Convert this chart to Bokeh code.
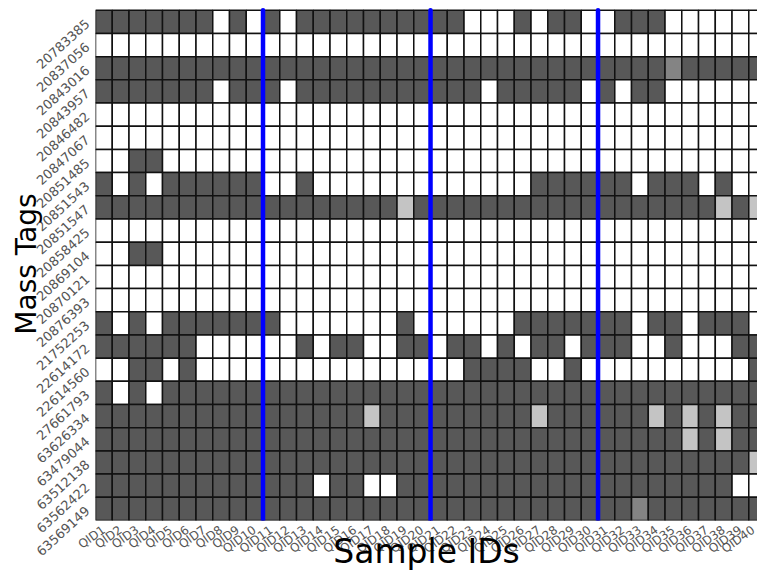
import math
from bokeh.plotting import figure
from bokeh.models import ColumnDataSource, Range1d, FixedTicker
from bokeh.embed import file_html
from bokeh.resources import INLINE

# Mass tags, listed top row first
mass_tags = [
    "20783385", "20837056", "20843016", "20843957", "20846482", "20847067",
    "20851485", "20851543", "20851547", "20858425", "20869104", "20870121",
    "20876393", "21752253", "22614172", "22614560", "27661793", "63626334",
    "63479044", "63512138", "63562422", "63569149",
]

# Sample IDs, left to right
sample_ids = [f"QID{i}" for i in range(1, 41)]

# Call per tag and sample: W = absent, D = present, L = weak, M = partial
calls = [
    "DDDDDDDWDW" "DWDDDDDDDD" "DDWWWDWDDW" "WDDDWWWWWW",
    "WWWWWWWWWW" "WWWWWWWWWW" "WWWWWWWWWW" "WWWWWWWWWW",
    "DDDDDDDDDD" "DDDDDDDDDD" "DDDDDDDDDD" "DDDDMDDDDD",
    "DDDDDDDWDD" "DWDDDDDDDD" "DDDWDDDDDW" "DWDDWWWWWW",
    "WWWWWWWWWW" "WWWWWWWWWW" "WWWWWWWWWW" "WWWWWWWWWW",
    "WWWWWWWWWW" "WWWWWWWWWW" "WWWWWWWWWW" "WWWWWWWWWW",
    "WWDDWWWWWW" "WWWWWWWWWW" "WWWWWWWWWW" "WWWWWWWWWW",
    "DWDWDDDDDD" "WWDWWWWWWW" "WWWWWWDDDD" "DDWDDDWDWW",
    "DDDDDDDDDD" "DDDDDDDDLD" "DDDDDDDDDD" "DDDDDDDLDL",
    "WWWWWWWWWW" "WWWWWWWWWW" "WWWWWWWWWW" "WWWWWWWWWW",
    "WWDDWWWWWW" "WWWWWWWWWW" "WWWWWWWWWW" "WWWWWWWWWW",
    "WWWWWWWWWW" "WWWWWWWWWW" "WWWWWWWWWW" "WWWWWWWWWW",
    "WWWWWWWWWW" "WWWWWWWWWW" "WWWWWWWWWW" "WWWWWWWWWW",
    "DWDWDDDDDD" "DWWWWWWWDW" "WWWWWDDDDD" "DDWDDWDDDW",
    "DDDDDDWWWW" "WWDWDDWWDD" "WDDWDWDDWD" "DDWWDWWWDD",
    "WWDDWDWWWW" "WWWWWWWWWW" "WWDDDDWWDW" "WWWWWWWWWD",
    "DWDWDDDDDD" "DDDDDDDDDD" "DDDDDDDDDD" "DDDDDDDDDD",
    "DDDDDDDDDD" "DDDDDDLDDD" "DDDDDDLDDD" "DDDLDLDLDD",
    "DDDDDDDDDD" "DDDDDDDDDD" "DDDDDDDDDD" "DDDDDLDLDD",
    "DDDDDDDDDD" "DDDDDDDDDD" "DDDDDDDDDD" "DDDDDDDDDL",
    "DDDDDDDDDD" "DDDWDDWWDD" "DDDDDDDDDD" "DDDDDDDDWW",
    "DDDDDDDDDD" "DDDDDDDDDD" "DDDDDDDDDD" "DDMDDDDDDD",
]

# Blue separators after every tenth sample
separators_after = [10, 20, 30]

palette = {"W": "#ffffff", "D": "#585858", "L": "#c4c4c4", "M": "#848484"}

n_rows = len(mass_tags)
n_cols = len(sample_ids)

xs, ys, colors = [], [], []
for r, row in enumerate(calls):
    for c, code in enumerate(row):
        xs.append(c + 0.5)
        ys.append(n_rows - r - 0.5)
        colors.append(palette[code])
cells = ColumnDataSource(dict(x=xs, y=ys, color=colors))

p = figure(
    width=757, height=573,
    x_range=Range1d(0, 39.52), y_range=Range1d(0, n_rows + 0.12),
    output_backend="svg", toolbar_location=None,
    min_border_left=95, min_border_right=0, min_border_top=7, min_border_bottom=50,
    outline_line_color=None,
)
p.grid.visible = False

p.rect("x", "y", width=1, height=1, source=cells, fill_color="color",
       line_color="#111111", line_width=1.5)

p.segment(x0=separators_after, y0=[0] * 3, x1=separators_after, y1=[n_rows] * 3,
          line_color="#0000ff", line_width=4.5, line_cap="round")

font = "DejaVu Sans"

p.xaxis.ticker = FixedTicker(ticks=[i + 0.5 for i in range(n_cols)])
p.xaxis.major_label_overrides = {i + 0.5: s for i, s in enumerate(sample_ids)}
p.yaxis.ticker = FixedTicker(ticks=[n_rows - i - 0.5 for i in range(n_rows)])
p.yaxis.major_label_overrides = {n_rows - i - 0.5: s for i, s in enumerate(mass_tags)}

for ax in (p.xaxis, p.yaxis):
    ax.axis_line_color = None
    ax.major_tick_line_color = None
    ax.minor_tick_line_color = None
    ax.major_label_text_font = font
    ax.major_label_text_color = "#555555"
    ax.major_label_standoff = 2
    ax.axis_label_text_font = font
    ax.axis_label_text_font_style = "normal"
    ax.axis_label_text_color = "#000000"

p.xaxis.major_label_text_font_size = "12px"
p.yaxis.major_label_text_font_size = "13px"
p.xaxis.major_label_orientation = 0.62
p.yaxis.major_label_orientation = 0.74

p.xaxis.axis_label = "Sample IDs"
p.xaxis.axis_label_text_font_size = "33px"
p.xaxis.axis_label_standoff = -33
p.yaxis.axis_label = "Mass Tags"
p.yaxis.axis_label_text_font_size = "28px"
p.yaxis.axis_label_standoff = -13

open("out.html", "w").write(file_html(p, INLINE))
